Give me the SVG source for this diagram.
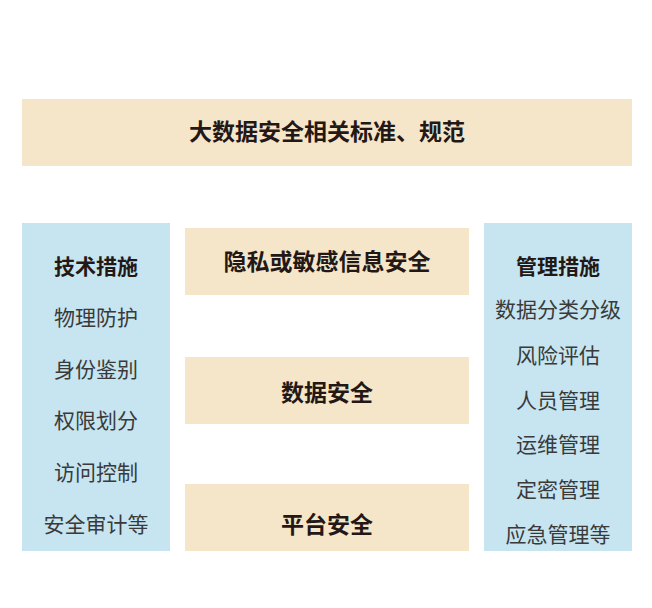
<svg xmlns="http://www.w3.org/2000/svg" width="652" height="608" viewBox="0 0 652 608">
<style>
.beige{fill:#F6E6C9}
.blue{fill:#C6E5F1}
text{font-family:"Noto Sans CJK SC","Noto Sans CJK TC",sans-serif;text-anchor:middle;dominant-baseline:central}
.h{font-size:23px;font-weight:bold;fill:#231815}
.t{font-size:21px;font-weight:bold;fill:#231815}
.i{font-size:21px;fill:#3a3a3a}
</style>
<rect width="652" height="608" fill="#ffffff"/>
<g id="standards">
<rect class="beige" x="22" y="99" width="610" height="67"/>
<text class="h" x="327" y="130">大数据安全相关标准、规范</text>
</g>
<g id="tech">
<rect class="blue" x="22" y="223" width="148" height="328"/>
<text class="t" x="96" y="265">技术措施</text>
<text class="i" x="96" y="316">物理防护</text>
<text class="i" x="96" y="368">身份鉴别</text>
<text class="i" x="96" y="419">权限划分</text>
<text class="i" x="96" y="471">访问控制</text>
<text class="i" x="96" y="523">安全审计等</text>
</g>
<g id="privacy">
<rect class="beige" x="185" y="228" width="284" height="67"/>
<text class="h" x="327" y="260">隐私或敏感信息安全</text>
</g>
<g id="data">
<rect class="beige" x="185" y="357" width="284" height="67"/>
<text class="h" x="327" y="391">数据安全</text>
</g>
<g id="platform">
<rect class="beige" x="185" y="484" width="284" height="67"/>
<text class="h" x="327" y="523">平台安全</text>
</g>
<g id="mgmt">
<rect class="blue" x="484" y="223" width="148" height="328"/>
<text class="t" x="558" y="265">管理措施</text>
<text class="i" x="558" y="308">数据分类分级</text>
<text class="i" x="558" y="354">风险评估</text>
<text class="i" x="558" y="399">人员管理</text>
<text class="i" x="558" y="443">运维管理</text>
<text class="i" x="558" y="488">定密管理</text>
<text class="i" x="558" y="533">应急管理等</text>
</g>
<g id="connectors"></g>
</svg>
